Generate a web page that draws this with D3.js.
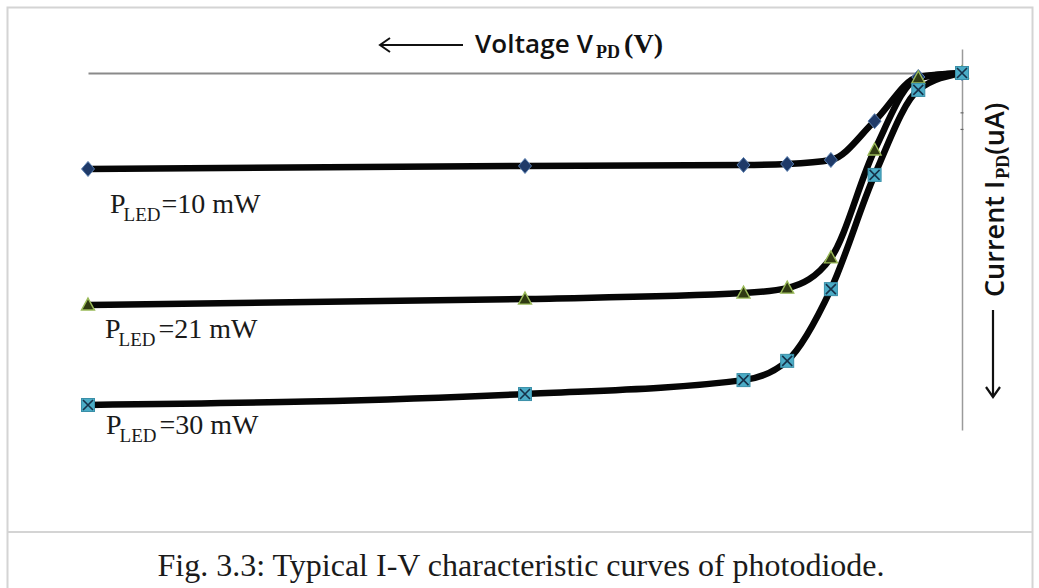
<!DOCTYPE html>
<html>
<head>
<meta charset="utf-8">
<script src="https://cdn.jsdelivr.net/npm/d3@7"></script>
<style>
  html, body { margin: 0; padding: 0; background: #fff; }
  svg { display: block; }
</style>
</head>
<body>
<svg id="chart" width="1039" height="588"></svg>
<script>
// ---- data ----
const voltages = [-10, -5, -2.5, -2, -1.5, -1, -0.5, 0];          // V_PD (V)
const current10mW = [28.9, 28.0, 27.7, 27.4, 26.2, 14.5, 1.2, 0];  // I_PD (uA)
const current21mW = [69.9, 68.1, 66.3, 64.8, 55.7, 23.2, 1.5, 0];
const current30mW = [100, 96.7, 92.5, 86.7, 65.1, 30.7, 5.1, 0];
const powerLabels = ["=10 mW", "=21 mW", "=30 mW"];
const markerTypes = ["diamond", "triangle", "squarex"];
const captionText = "Fig. 3.3: Typical I-V characteristic curves of photodiode.";

const svg = d3.select("#chart");

// frame
svg.append("rect").attr("x", 7.5).attr("y", 7.5).attr("width", 1025).attr("height", 600)
  .attr("fill", "none").attr("stroke", "#d4d4d4").attr("stroke-width", 2);
svg.append("line").attr("x1", 7).attr("x2", 1033).attr("y1", 532).attr("y2", 532)
  .attr("stroke", "#d4d4d4").attr("stroke-width", 2);

// scales: voltage grows to the right towards 0, current grows downwards
const x = d3.scaleLinear().domain([-10, 0]).range([88, 962]);
const y = d3.scaleLinear().domain([0, 100]).range([73, 405]);

// axes drawn as plain lines through the origin
const xAxis = d3.axisBottom(x).tickValues([]).tickSizeOuter(0);
const gx = svg.append("g").attr("transform", `translate(0,${y(0)})`).call(xAxis);
gx.select(".domain").attr("stroke", "#8a8a8a").attr("stroke-width", 2.2);

const yAxis = d3.axisLeft(y.copy().domain([-7.2, 107.2]).range([49, 430])).tickValues([]).tickSizeOuter(0);
const gy = svg.append("g").attr("transform", `translate(${x(0)},0)`).call(yAxis);
gy.select(".domain").attr("stroke", "#9a9a9a").attr("stroke-width", 1.5);
// tiny tick marks on the current axis
[12, 17].forEach(v => {
  svg.append("line").attr("x1", x(0) - 1.5).attr("x2", x(0) + 1.5)
    .attr("y1", y(v)).attr("y2", y(v)).attr("stroke", "#666").attr("stroke-width", 1.2);
});

// curves
const series = [current10mW, current21mW, current30mW];
const line = d3.line().x((d, i) => x(voltages[i])).y(d => y(d)).curve(d3.curveMonotoneX);

series.forEach(s => {
  svg.append("path").datum(s).attr("d", line)
    .attr("fill", "none").attr("stroke", "#060606").attr("stroke-width", 6.5)
    .attr("stroke-linecap", "round").attr("stroke-linejoin", "round");
});

// markers
function drawMarker(g, type, cx, cy) {
  if (type === "diamond") {
    g.append("path").attr("d", `M${cx},${cy - 7.5}L${cx + 6.5},${cy}L${cx},${cy + 7.5}L${cx - 6.5},${cy}Z`)
      .attr("fill", "#1f3a68").attr("stroke", "#5a7fb0").attr("stroke-width", 1);
  } else if (type === "triangle") {
    g.append("path").attr("d", `M${cx},${cy - 7}L${cx + 6.5},${cy + 5}L${cx - 6.5},${cy + 5}Z`)
      .attr("fill", "#2f3a12").attr("stroke", "#9bbb59").attr("stroke-width", 1.4);
  } else {
    g.append("rect").attr("x", cx - 6.5).attr("y", cy - 6.5).attr("width", 13).attr("height", 13)
      .attr("fill", "#4bacc6").attr("stroke", "#3a8fa8").attr("stroke-width", 1);
    g.append("path").attr("d", `M${cx - 5},${cy - 5}L${cx + 5},${cy + 5}M${cx + 5},${cy - 5}L${cx - 5},${cy + 5}`)
      .attr("stroke", "#16324a").attr("stroke-width", 1.6);
  }
}
const mg = svg.append("g");
series.forEach((s, k) => {
  s.forEach((d, i) => drawMarker(mg, markerTypes[k], x(voltages[i]), y(d)));
});

// series labels P_LED
const labelPos = [[110, 213], [105, 338], [106, 434]];
powerLabels.forEach((t, k) => {
  const tx = svg.append("text").attr("x", labelPos[k][0]).attr("y", labelPos[k][1])
    .attr("font-family", "'Liberation Serif', 'Times New Roman', serif").attr("fill", "#1a1a1a");
  tx.append("tspan").attr("font-size", 28).text("P");
  tx.append("tspan").attr("font-size", 19).attr("dy", 8).attr("dx", -2).text("LED");
  tx.append("tspan").attr("font-size", 28).attr("dy", -8).attr("dx", k === 0 ? 1 : 3).text(t);
});

// voltage title with arrow
const arrowColor = "#111";
svg.append("line").attr("x1", 380).attr("x2", 463).attr("y1", 45).attr("y2", 45)
  .attr("stroke", arrowColor).attr("stroke-width", 2);
svg.append("path").attr("d", "M390,38L380,45L390,52").attr("fill", "none")
  .attr("stroke", arrowColor).attr("stroke-width", 2);
const vt = svg.append("text").attr("x", 475).attr("y", 53).attr("fill", "#111");
vt.append("tspan").attr("font-family", "'Open Sans', sans-serif").attr("font-weight", 600)
  .attr("font-size", 26).attr("textLength", 118).text("Voltage V");
vt.append("tspan").attr("font-family", "'Liberation Serif', serif").attr("font-weight", 700)
  .attr("font-size", 18).attr("dy", 5).attr("dx", 3).text("PD");
vt.append("tspan").attr("font-family", "'Liberation Serif', serif").attr("font-weight", 700)
  .attr("font-size", 28).attr("dy", -5).attr("dx", 4).text("(V)");

// current title (rotated) with arrow
const ct = svg.append("text").attr("transform", "translate(1004,297) rotate(-90)").attr("fill", "#111");
ct.append("tspan").attr("font-family", "'Open Sans', sans-serif").attr("font-weight", 600)
  .attr("font-size", 27).text("Current I");
ct.append("tspan").attr("font-family", "'Liberation Serif', serif").attr("font-weight", 700)
  .attr("font-size", 18).attr("dy", 5).attr("dx", 2).text("PD");
ct.append("tspan").attr("font-family", "'Open Sans', sans-serif").attr("font-weight", 600)
  .attr("font-size", 27).attr("dy", -5).text("(uA)");
svg.append("line").attr("x1", 993).attr("x2", 993).attr("y1", 310).attr("y2", 397)
  .attr("stroke", arrowColor).attr("stroke-width", 2.2);
svg.append("path").attr("d", "M986,387L993,397L1000,387").attr("fill", "none")
  .attr("stroke", arrowColor).attr("stroke-width", 2.2);

// caption
svg.append("text").attr("x", 521).attr("y", 576).attr("text-anchor", "middle")
  .attr("font-family", "'Liberation Serif', 'Times New Roman', serif").attr("font-size", 32)
  .attr("fill", "#1a1a1a").text(captionText);
</script>
</body>
</html>
